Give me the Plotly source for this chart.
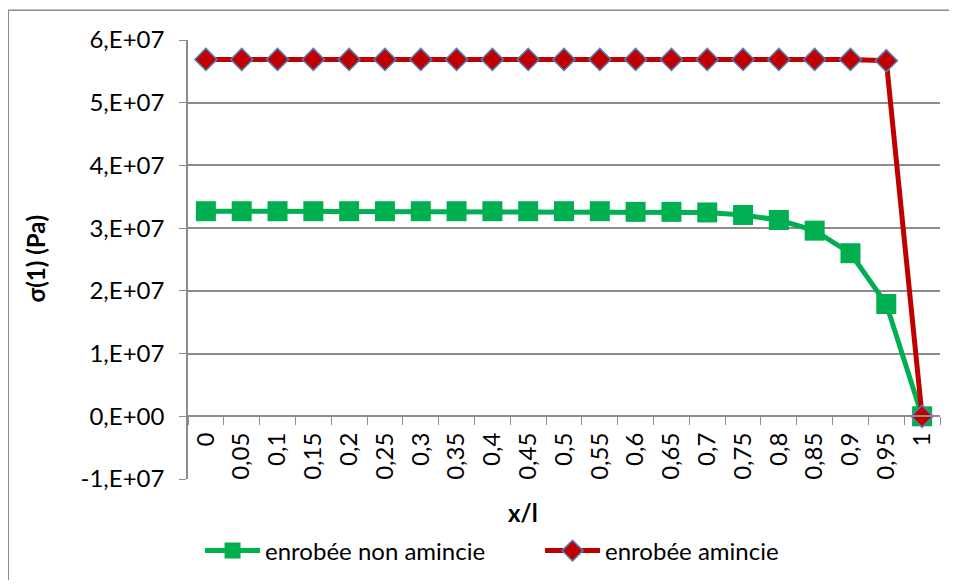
import plotly.graph_objects as go

categories = ["0", "0,05", "0,1", "0,15", "0,2", "0,25", "0,3", "0,35", "0,4", "0,45",
              "0,5", "0,55", "0,6", "0,65", "0,7", "0,75", "0,8", "0,85", "0,9", "0,95", "1"]
non_amincie = [3.27e7, 3.27e7, 3.27e7, 3.27e7, 3.27e7, 3.27e7, 3.27e7, 3.27e7, 3.27e7, 3.27e7,
               3.27e7, 3.27e7, 3.26e7, 3.26e7, 3.25e7, 3.21e7, 3.13e7, 2.96e7, 2.60e7, 1.79e7, 0.0]
amincie = [5.69e7] * 19 + [5.67e7, 0.0]
y_ticks = [-1e7, 0, 1e7, 2e7, 3e7, 4e7, 5e7, 6e7]
y_ticktext = ["-1,E+07", "0,E+00", "1,E+07", "2,E+07", "3,E+07", "4,E+07", "5,E+07", "6,E+07"]

FONT = "Lato"
GRID = "#8c8c8c"
FS = 24

fig = go.Figure()
fig.add_trace(go.Scatter(
    x=categories, y=non_amincie, mode="lines+markers", name="enrobée non amincie",
    line=dict(color="#00B050", width=5),
    marker=dict(symbol="square", size=20, color="#00B050", line=dict(width=0)),
))
fig.add_trace(go.Scatter(
    x=categories, y=amincie, mode="lines+markers", name="enrobée amincie",
    line=dict(color="#C00000", width=5),
    marker=dict(symbol="diamond", size=17, color="#C00000", line=dict(color="#4F81BD", width=1.5)),
))

fig.update_layout(
    width=941, height=572,
    margin=dict(l=180, r=9, t=32, b=101, autoexpand=False),
    paper_bgcolor="white", plot_bgcolor="white",
    font=dict(family=FONT, size=FS, color="black"),
    showlegend=True,
    legend=dict(orientation="h", x=0.016, xanchor="left", y=-0.164, yanchor="middle",
                font=dict(size=FS), itemwidth=55, entrywidth=270, tracegroupgap=0),
    xaxis=dict(
        type="category", anchor="free", position=1/7, automargin=False,
        showgrid=False, showline=True, linecolor=GRID, linewidth=1.5,
        ticks="outside", ticklen=8, tickcolor=GRID, tickson="boundaries",
        tickangle=-90, tickfont=dict(size=FS), range=[-0.5, 20.5],
        ticklabelstandoff=6,
    ),
    yaxis=dict(
        range=[-1e7, 6e7], tickvals=y_ticks, ticktext=y_ticktext, automargin=False,
        showgrid=True, gridcolor=GRID, gridwidth=1.5,
        showline=True, linecolor=GRID, linewidth=1.5,
        ticks="outside", ticklen=7, tickcolor=GRID,
        zeroline=False, tickfont=dict(size=FS), ticklabelstandoff=10,
    ),
    annotations=[
        dict(text="<b>x/l</b>", x=0.445, y=-0.077, xref="paper", yref="paper",
             showarrow=False, font=dict(size=FS), xanchor="center", yanchor="middle"),
        dict(text="<b>σ(1) (Pa)</b>", x=-0.203, y=0.503, xref="paper", yref="paper",
             showarrow=False, textangle=-90, font=dict(size=FS), xanchor="center", yanchor="middle"),
    ],
    shapes=[
        dict(type="rect", xref="paper", yref="paper", x0=-0.239, x1=1.2, y0=-0.5, y1=1.068,
             line=dict(color=GRID, width=1.5), fillcolor="rgba(0,0,0,0)", layer="below"),
    ],
)

fig.write_html("out.html")
